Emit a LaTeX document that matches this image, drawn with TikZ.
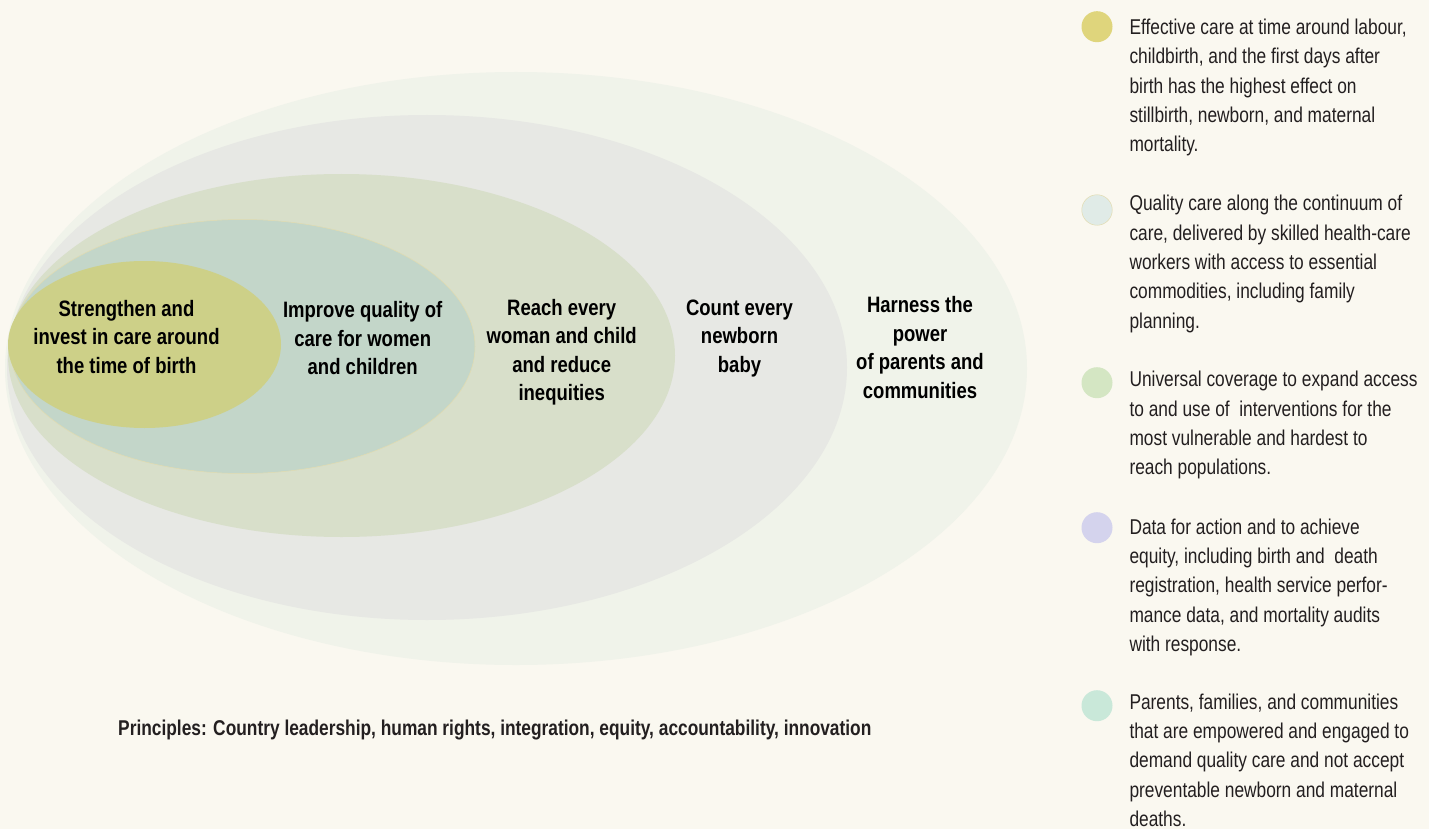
\documentclass[tikz,border=0pt]{standalone}
\usepackage{fontspec}
\setmainfont{Liberation Sans}
\newfontfamily\legfont{Liberation Sans}[FakeStretch=0.81]
\newfontfamily\labfont{Liberation Sans}[FakeStretch=0.83]
\newfontfamily\prinfont{Liberation Sans}[FakeStretch=0.81]
\definecolor{bg}{HTML}{FAF8F0}
\definecolor{efive}{HTML}{F0F3EA}
\definecolor{efour}{HTML}{E7E8E4}
\definecolor{ethree}{HTML}{D8DFCA}
\definecolor{etwo}{HTML}{C3D6C9}
\definecolor{eone}{HTML}{CDD088}
\definecolor{edge}{HTML}{E2DCB0}
\definecolor{lone}{HTML}{DFD57C}
\definecolor{ltwo}{HTML}{E0EBE7}
\definecolor{lthree}{HTML}{D4E6C3}
\definecolor{lfour}{HTML}{D4D3ED}
\definecolor{lfive}{HTML}{C9E8D9}
\definecolor{txt}{HTML}{231F20}
\begin{document}
\begin{tikzpicture}[x=1pt,y=-1pt,
  lab/.style={anchor=base,inner sep=0pt,text=black,font=\labfont\bfseries\fontsize{22.3}{28.5}\selectfont},
  leg/.style={anchor=base west,inner sep=0pt,text=txt,font=\legfont\fontsize{21.4}{29.4}\selectfont},
  dot/.style={circle,inner sep=0pt,minimum size=31pt,draw=none}]
\useasboundingbox (0,0) rectangle (1429,829);
\fill[bg] (0,0) rectangle (1429,829);
% nested ellipses
\fill[efive] (516,368.5) ellipse [x radius=511pt, y radius=296.5pt];
\fill[efour] (427,367.5) ellipse [x radius=420pt, y radius=252.5pt];
\fill[ethree] (341.5,355.5) ellipse [x radius=333.5pt, y radius=181.5pt];
\filldraw[fill=etwo,draw=edge,line width=0.5pt] (242.5,346.5) ellipse [x radius=232.5pt, y radius=127pt];
\fill[eone] (144.5,344.5) ellipse [x radius=136.5pt, y radius=83.5pt];
% labels
\node[lab] (l1) at (126.5,316) {\parbox[t]{300pt}{\centering Strengthen and\\invest in care around\\the time of birth}};
\node[lab] (l2) at (362.7,317.5) {\parbox[t]{300pt}{\centering Improve quality of\\care for women\\and children}};
\node[lab] (l3) at (561.7,315) {\parbox[t]{300pt}{\centering Reach every\\woman and child\\and reduce\\inequities}};
\node[lab] (l4) at (739.5,315) {\parbox[t]{300pt}{\centering Count every\\newborn\\baby}};
\node[lab] (l5) at (920,312.5) {\parbox[t]{300pt}{\centering Harness the\\power\\of parents and\\communities}};
\node[anchor=base west,inner sep=0pt,text=txt,font=\prinfont\bfseries\fontsize{21.4}{29.4}\selectfont] (pr) at (118,735) {Principles: Country leadership, human rights, integration, equity, accountability, innovation};
% legend
\node[dot,fill=lone] (d1) at (1097,26.7) {};
\node[dot,fill=ltwo,draw=edge,line width=0.5pt,minimum size=30.5pt] (d2) at (1097,210) {};
\node[dot,fill=lthree] (d3) at (1097,382.7) {};
\node[dot,fill=lfour] (d4) at (1097,527.7) {};
\node[dot,fill=lfive] (d5) at (1097,705.7) {};
\node[leg] (t1) at (1129.3,34.3) {\parbox[t]{300pt}{\raggedright Effective care at time around labour,\\childbirth, and the first days after\\birth has the highest effect on\\stillbirth, newborn, and maternal\\mortality.}};
\node[leg] (t2) at (1129.3,210.7) {\parbox[t]{300pt}{\raggedright Quality care along the continuum of\\care, delivered by skilled health-care\\workers with access to essential\\commodities, including family\\planning.}};
\node[leg] (t3) at (1129.3,386.7) {\parbox[t]{300pt}{\raggedright Universal coverage to expand access\\to and use of\ \ interventions for the\\most vulnerable and hardest to\\reach populations.}};
\node[leg] (t4) at (1129.3,534) {\parbox[t]{300pt}{\raggedright Data for action and to achieve\\equity, including birth and\ \ death\\registration, health service perfor-\\mance data, and mortality audits\\with response.}};
\node[leg] (t5) at (1129.3,709) {\parbox[t]{300pt}{\raggedright Parents, families, and communities\\that are empowered and engaged to\\demand quality care and not accept\\preventable newborn and maternal\\deaths.}};
\end{tikzpicture}
\end{document}
